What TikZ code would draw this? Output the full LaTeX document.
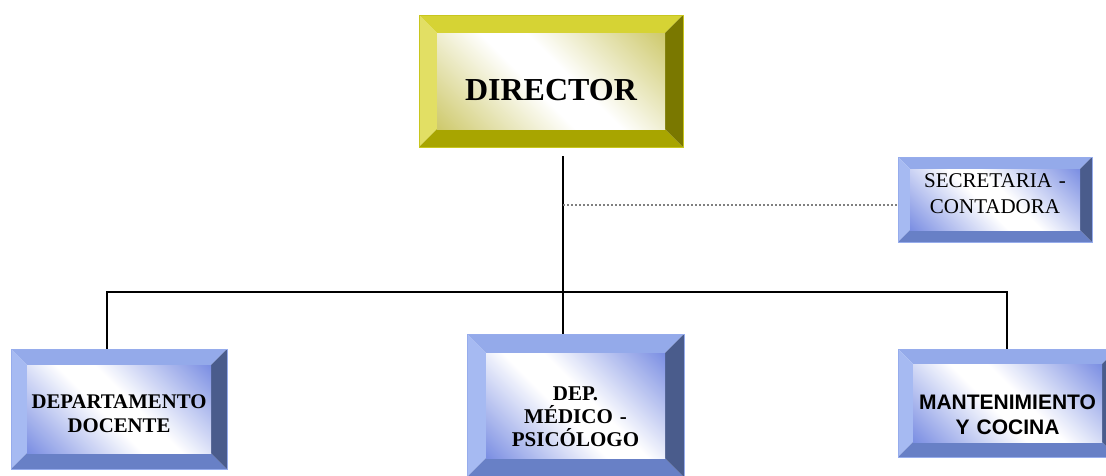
\documentclass[tikz,border=0pt]{standalone}
\usepackage{fontspec}
\setmainfont{Liberation Serif}
\newfontfamily\arialf{Liberation Sans}
\definecolor{dTop}{RGB}{214,211,52}
\definecolor{dLeft}{RGB}{226,223,100}
\definecolor{dBot}{RGB}{168,165,0}
\definecolor{dRight}{RGB}{122,120,0}
\definecolor{dIn}{RGB}{205,200,105}
\definecolor{dLine}{RGB}{200,198,30}
\definecolor{bTop}{RGB}{148,170,234}
\definecolor{bLeft}{RGB}{166,186,242}
\definecolor{bBot}{RGB}{104,128,198}
\definecolor{bRight}{RGB}{74,92,140}
\definecolor{bIn}{RGB}{120,140,226}
\definecolor{bLine}{RGB}{150,172,236}
\pgfdeclarehorizontalshading{dirshade}{100bp}{color(0bp)=(dIn); color(14bp)=(dIn); color(45bp)=(white); color(55bp)=(white); color(86bp)=(dIn); color(100bp)=(dIn)}
\pgfdeclarehorizontalshading{blueshade}{100bp}{color(0bp)=(bIn); color(14bp)=(bIn); color(45bp)=(white); color(55bp)=(white); color(86bp)=(bIn); color(100bp)=(bIn)}
\tikzset{
  bevel/.style n args={7}{inner sep=0pt, align=center, draw=#6, line width=0.8pt,
    path picture={
      \fill[#1] (path picture bounding box.north west) -- (path picture bounding box.north east)
        -- ([xshift=-#7,yshift=-#7]path picture bounding box.north east)
        -- ([xshift=#7,yshift=-#7]path picture bounding box.north west) -- cycle;
      \fill[#2] (path picture bounding box.north west) -- ([xshift=#7,yshift=-#7]path picture bounding box.north west)
        -- ([xshift=#7,yshift=#7]path picture bounding box.south west)
        -- (path picture bounding box.south west) -- cycle;
      \fill[#3] (path picture bounding box.south west) -- (path picture bounding box.south east)
        -- ([xshift=-#7,yshift=#7]path picture bounding box.south east)
        -- ([xshift=#7,yshift=#7]path picture bounding box.south west) -- cycle;
      \fill[#4] (path picture bounding box.north east) -- (path picture bounding box.south east)
        -- ([xshift=-#7,yshift=#7]path picture bounding box.south east)
        -- ([xshift=-#7,yshift=-#7]path picture bounding box.north east) -- cycle;
      \shade[shading=#5, shading angle=45] ([xshift=#7,yshift=#7]path picture bounding box.south west)
        rectangle ([xshift=-#7,yshift=-#7]path picture bounding box.north east);
    }},
  dirbox/.style={bevel={dTop}{dLeft}{dBot}{dRight}{dirshade}{dLine}{#1}},
  bluebox/.style={bevel={bTop}{bLeft}{bBot}{bRight}{blueshade}{bLine}{#1}},
  conn/.style={line width=2pt, black},
  dotl/.style={line width=1.2pt, gray, dash pattern=on 2pt off 2pt}
}
\begin{document}
\begin{tikzpicture}[x=1pt,y=-1pt]
\useasboundingbox (0,0) rectangle (1106,475);
\node[dirbox=18pt, minimum width=264pt, minimum height=132pt, text height=38pt, text depth=0pt,
  font=\fontsize{32}{36}\selectfont\bfseries] (dir) at (551,81) {DIRECTOR};
\node[bluebox=12pt, minimum width=194pt, minimum height=85pt, text width=180pt, text height=4pt, text depth=29pt,
  font=\fontsize{21}{26}\selectfont] (sec) at (995,199.5) {SECRETARIA -\\CONTADORA};
\node[bluebox=16pt, minimum width=216pt, minimum height=120pt, text width=200pt, text height=10pt, text depth=12pt,
  font=\fontsize{20.8}{24}\selectfont\bfseries] (dep) at (119,409) {DEPARTAMENTO\\DOCENTE};
\node[bluebox=19pt, minimum width=217pt, minimum height=143pt, text width=200pt, text height=8pt, text depth=19pt,
  font=\fontsize{21}{23}\selectfont\bfseries] (med) at (575.5,405.5) {DEP.\\MÉDICO -\\PSICÓLOGO};
\node[bluebox=15pt, minimum width=219pt, minimum height=108pt, text width=200pt, text height=18pt, text depth=6pt,
  font=\arialf\fontsize{21}{25}\selectfont\bfseries] (man) at (1007.5,403) {MANTENIMIENTO\\Y COCINA};
\coordinate (vt) at (563,156);
\coordinate (dt) at (563,205);
\coordinate (hl) at (107,292);
\coordinate (hr) at (1007,292);
\draw[conn] (vt) -- (vt |- med.north);
\draw[conn] (hl |- dep.north) -- (hl) -- (hr) -- (hr |- man.north);
\draw[dotl] (dt) -- (dt -| sec.west);
\end{tikzpicture}
\end{document}
